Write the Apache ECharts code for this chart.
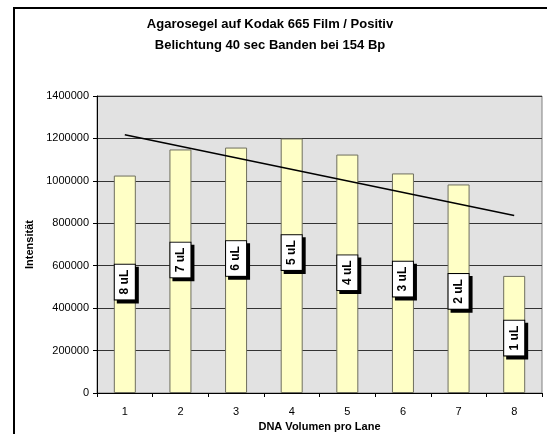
<!DOCTYPE html>
<html><head><meta charset="utf-8">
<script src="https://cdn.jsdelivr.net/npm/echarts@6/dist/echarts.min.js"></script>
<style>html,body{margin:0;padding:0;background:#fff}#c{width:547px;height:434px}</style>
</head><body><div id="c"></div>
<script>
var categories = ['1','2','3','4','5','6','7','8'];
var intensity = [1025000, 1148000, 1157000, 1200000, 1124000, 1035000, 983000, 552000];
var volumeLabels = ['8 uL','7 uL','6 uL','5 uL','4 uL','3 uL','2 uL','1 uL'];
var labelPos = [523000, 627000, 634000, 662000, 567000, 537000, 479000, 259000];
var trendEnds = [[0, 1217000], [7, 837000]];
var yTicks = [0, 200000, 400000, 600000, 800000, 1000000, 1200000, 1400000];

var chart = echarts.init(document.getElementById('c'), null, {renderer:'canvas'});
var font = 'Liberation Sans, Arial, sans-serif';
function boxLabel(bg, txt, off){
  return {show:true, position:'inside', rotate:90, offset:off, opacity:1,
    formatter:function(p){return volumeLabels[p.dataIndex];},
    fontFamily:font, fontSize:12, fontWeight:'bold', color:txt,
    backgroundColor:bg, borderColor:'#000', borderWidth:1, padding:[4,5]};
}
chart.setOption({
  animation:false,
  backgroundColor:'#fff',
  title:{
    text:'Agarosegel auf Kodak 665 Film / Positiv\nBelichtung 40 sec Banden bei 154 Bp',
    left:265, top:9, textAlign:'center',
    textStyle:{fontFamily:font, fontSize:13, fontWeight:'bold', color:'#000', lineHeight:21}
  },
  graphic:[{type:'rect', shape:{x:14, y:8, width:600, height:500}, style:{fill:'none', stroke:'#000', lineWidth:2}, silent:true}],
  grid:{left:97, right:5, top:96, bottom:41, containLabel:false, outerBoundsMode:'none',
    show:true, backgroundColor:'#E2E2E2', borderColor:'#808080', borderWidth:1},
  xAxis:{
    type:'category', data:categories, boundaryGap:true,
    name:'DNA Volumen pro Lane', nameLocation:'middle', nameGap:28,
    nameTextStyle:{fontFamily:font, fontSize:11, fontWeight:'bold', color:'#000'},
    axisLine:{lineStyle:{color:'#000'}},
    axisTick:{show:true, length:4, lineStyle:{color:'#000'}},
    axisLabel:{fontFamily:font, fontSize:11, color:'#000', margin:13}
  },
  yAxis:{
    type:'value', min:0, max:1400000, interval:200000,
    name:'Intensität', nameLocation:'middle', nameGap:53,
    nameTextStyle:{fontFamily:font, fontSize:11, fontWeight:'bold', color:'#000'},
    axisLine:{show:true, lineStyle:{color:'#000'}},
    axisTick:{show:true, length:4, lineStyle:{color:'#000'}},
    axisLabel:{fontFamily:font, fontSize:11, color:'#000', margin:8,
      formatter:function(v){return yTicks.indexOf(v)>=0 ? String(v) : '';}},
    splitLine:{show:true, lineStyle:{color:'#333', width:1}}
  },
  series:[
    {type:'bar', data:intensity, barWidth:22,
     itemStyle:{color:'#FFFFC6', borderColor:'#6e6e5e', borderWidth:1}},
    {type:'line', data:trendEnds, symbol:'none', lineStyle:{color:'#000', width:1.5}, z:5},
    {type:'scatter', data:labelPos, symbolSize:0, z:9, silent:true, itemStyle:{opacity:1},
     label:boxLabel('#000', '#000', [-3,3])},
    {type:'scatter', data:labelPos, symbolSize:0, z:10, silent:true, itemStyle:{opacity:1},
     label:boxLabel('#fff', '#000', [0,0])}
  ]
});
</script></body></html>
